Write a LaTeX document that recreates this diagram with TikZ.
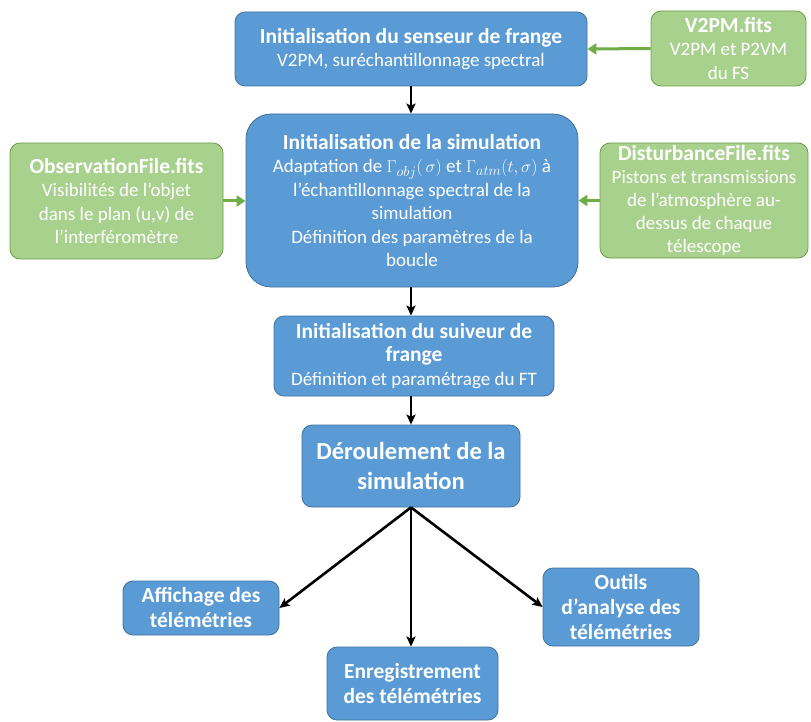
\documentclass[tikz,border=0pt]{standalone}
\usepackage{fontspec}
\setmainfont{Carlito}
\usetikzlibrary{arrows.meta}
\definecolor{bfill}{HTML}{5B9BD5}
\definecolor{bdraw}{HTML}{41719C}
\definecolor{gfill}{HTML}{A9D18E}
\definecolor{gdraw}{HTML}{6A9E45}
\definecolor{garrow}{HTML}{70AD47}
\newcommand{\ttl}[1]{{\fontsize{21.5}{24}\selectfont\bfseries #1}}
\tikzset{
  bbox/.style={rectangle, rounded corners=10pt, fill=bfill, draw=bdraw, line width=0.8pt,
    text=white, align=center, inner sep=0pt, font=\fontsize{19}{23.5}\selectfont},
  gbox/.style={bbox, fill=gfill, draw=gdraw},
  bigb/.style={font=\fontsize{21.5}{25}\selectfont\bfseries},
  arr/.style={-{Stealth[length=10pt,width=9pt,inset=2pt]}, line width=2.6pt, black},
  garr/.style={-{Triangle[length=9pt,width=11pt]}, line width=3pt, garrow},
}
\begin{document}
\begin{tikzpicture}[x=1pt,y=-1pt]
\useasboundingbox (0,0) rectangle (811,722);
\node[bbox, minimum width=352pt, minimum height=74pt] (sens) at (411,49)
  {\ttl{Initialisation du senseur de frange}\\V2PM, suréchantillonnage spectral};
\node[gbox, minimum width=155pt, minimum height=75pt] (v2pm) at (728.5,48.5)
  {\ttl{V2PM.fits}\\V2PM et P2VM\\du FS};
\node[bbox, rounded corners=25pt, minimum width=332pt, minimum height=173pt] (sim) at (412,200.5)
  {\ttl{Initialisation de la simulation}\\
   Adaptation de $\Gamma_{obj}(\,\sigma)$ et $\Gamma_{atm}(t,\sigma)$ à\\
   l’échantillonnage spectral de la\\simulation\\
   Définition des paramètres de la\\boucle};
\node[gbox, minimum width=213pt, minimum height=116pt] (obs) at (116.5,201)
  {\ttl{ObservationFile.fits}\\Visibilités de l’objet\\dans le plan (u,v) de\\l’interféromètre};
\node[gbox, minimum width=208pt, minimum height=115pt, font=\fontsize{19}{23}\selectfont] (dist) at (704,200.5)
  {\ttl{DisturbanceFile.fits}\\Pistons et transmissions\\de l’atmosphère au-\\dessus de chaque\\télescope};
\node[bbox, minimum width=280pt, minimum height=80pt] (suiv) at (414,356)
  {\ttl{Initialisation du suiveur de}\\\ttl{frange}\\Définition et paramétrage du FT};
\node[bbox, minimum width=218pt, minimum height=82pt, font=\fontsize{24.5}{30.5}\selectfont\bfseries] (der) at (411,466)
  {Déroulement de la\\simulation};
\node[bbox, bigb, minimum width=156pt, minimum height=54pt] (aff) at (201,608)
  {Affichage des\\télémétries};
\node[bbox, bigb, minimum width=156pt, minimum height=78pt] (out) at (621,607)
  {Outils\\d’analyse des\\télémétries};
\node[bbox, bigb, minimum width=171pt, minimum height=73pt] (enr) at (412.5,683.5)
  {Enregistrement\\des télémétries};
\draw[arr] (sens.south -| 411,0) -- (sim.north -| 411,0);
\draw[arr] (sim.south -| 411,0) -- (suiv.north -| 411,0);
\draw[arr] (suiv.south -| 411,0) -- (der.north -| 411,0);
\draw[arr] (der.south) -- (aff.east);
\draw[arr] (der.south) -- (enr.north -| der.south);
\draw[arr] (der.south) -- (out.west);
\draw[garr] (v2pm.west) -- (sens.east);
\draw[garr] (obs.east) -- (sim.west |- obs.east);
\draw[garr] (dist.west) -- (sim.east |- dist.west);
\end{tikzpicture}
\end{document}
